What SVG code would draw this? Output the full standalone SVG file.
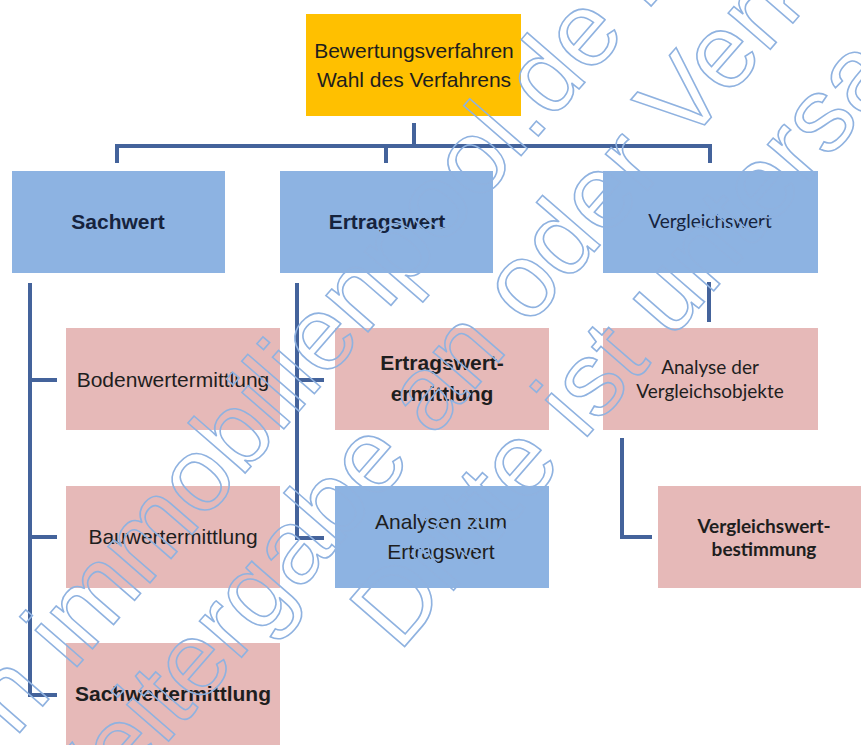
<svg xmlns="http://www.w3.org/2000/svg" width="861" height="745" viewBox="0 0 861 745">
<style>
.box-top{fill:#FFC000}
.box-blue{fill:#8DB3E2}
.box-pink{fill:#E6B9B8}
.t{font-family:"Liberation Sans",Arial,sans-serif;font-size:21px;text-anchor:middle;fill:#1e1e1e}
.b{font-weight:bold}
.c{font-family:Lato,"Liberation Sans",sans-serif;font-size:19px;text-anchor:middle;fill:#1e1e1e}
.nv{fill:#16233d}
.conn{fill:none;stroke:#44639B;stroke-width:4}
.wm{font-family:"Liberation Sans",Arial,sans-serif;font-size:105px;fill:none;stroke:#8FB2E0;stroke-width:1.6}
</style>
<rect width="861" height="745" fill="#ffffff"/>
<g id="connectors">
<path class="conn" d="M414,123 V146 M117,146 H710 M117,144 V163 M386,144 V163 M710,144 V163"/>
<path class="conn" d="M30,283 V695 H57 M30,380 H57 M30,537 H57"/>
<path class="conn" d="M297,283 V538 H324 M297,380 H324"/>
<path class="conn" d="M709,282 V322"/>
<path class="conn" d="M622,438 V537 H652"/>
</g>
<g id="n-bewertungsverfahren">
<rect class="box-top" x="306" y="14" width="215" height="102"/>
<text class="t" x="414" y="58">Bewertungsverfahren</text>
<text class="t" x="414" y="87">Wahl des Verfahrens</text>
</g>
<g id="n-sachwert">
<rect class="box-blue" x="12" y="171" width="213" height="102"/>
<text class="t b nv" x="118" y="229">Sachwert</text>
</g>
<g id="n-ertragswert">
<rect class="box-blue" x="280" y="171" width="213" height="102"/>
<text class="t b nv" x="387" y="229">Ertragswert</text>
</g>
<g id="n-vergleichswert">
<rect class="box-blue" x="603" y="171" width="215" height="102"/>
<text class="c nv" x="710" y="228">Vergleichswert</text>
</g>
<g id="n-bodenwertermittlung">
<rect class="box-pink" x="66" y="328" width="214" height="102"/>
<text class="t" x="173" y="387">Bodenwertermittlung</text>
</g>
<g id="n-ertragswertermittlung">
<rect class="box-pink" x="335" y="328" width="214" height="102"/>
<text class="t b" x="442" y="370">Ertragswert-</text>
<text class="t b" x="442" y="401">ermittlung</text>
</g>
<g id="n-analyse-vergleichsobjekte">
<rect class="box-pink" x="603" y="328" width="215" height="102"/>
<text class="c" x="710" y="374">Analyse der</text>
<text class="c" x="710" y="398">Vergleichsobjekte</text>
</g>
<g id="n-bauwertermittlung">
<rect class="box-pink" x="66" y="486" width="214" height="102"/>
<text class="t" x="173" y="544">Bauwertermittlung</text>
</g>
<g id="n-analysen-ertragswert">
<rect class="box-blue" x="335" y="486" width="214" height="102"/>
<text class="t" x="441" y="529">Analysen zum</text>
<text class="t" x="441" y="559">Ertragswert</text>
</g>
<g id="n-vergleichswertbestimmung">
<rect class="box-pink" x="658" y="486" width="214" height="102"/>
<text class="c b" x="764" y="533">Vergleichswert-</text>
<text class="c b" x="764" y="556">bestimmung</text>
</g>
<g id="n-sachwertermittlung">
<rect class="box-pink" x="66" y="643" width="214" height="102"/>
<text class="t b" x="173" y="701">Sachwertermittlung</text>
</g>
<g id="watermark">
<text class="wm" transform="translate(15,738) rotate(-49)">n immobilienpool.de b</text>
<text class="wm" transform="translate(62,864) rotate(-49)">Weitergabe an oder Verk</text>
<text class="wm" transform="translate(399,653) rotate(-49)">Dritte ist untersa</text>
</g>
</svg>
